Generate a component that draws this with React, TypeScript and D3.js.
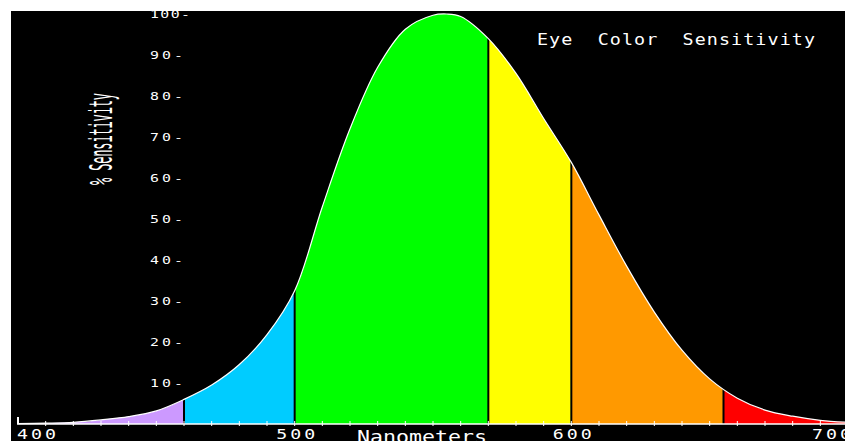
import React from "react";
import * as d3 from "d3";

const wavelengths = [400, 410, 420, 430, 440, 450, 460, 470, 480, 490, 500, 510, 520, 530, 540, 550, 555, 560, 570, 580, 590, 600, 610, 620, 630, 640, 650, 660, 670, 680, 690, 700];
const sensitivity = [0.1, 0.2, 0.4, 1.0, 1.8, 3.2, 6.0, 9.5, 14.5, 21.8, 32.5, 53.0, 72.0, 87.0, 96.3, 99.7, 100, 99.4, 94.0, 85.5, 74.5, 63.8, 51.0, 38.5, 27.3, 18.0, 11.0, 6.3, 3.4, 1.9, 0.9, 0.4];

const bandEdges = [400, 460, 500, 570, 600, 655, 700];
const bandColors = ["#CC99FF", "#00CCFF", "#00FF00", "#FFFF00", "#FF9900", "#FF0000"];

const yTicks = [10, 20, 30, 40, 50, 60, 70, 80, 90, 100];
const xLabels = [400, 500, 600, 700];
const minorTicks = d3.range(410, 700, 10);

const title = "Eye  Color  Sensitivity";
const yTitle = "% Sensitivity";
const xTitle = "Nanometers";

const W = 845;
const H = 441;
const FONT = "'DejaVu Sans Mono', monospace";

export default function App() {
  const x = d3.scaleLinear().domain([400, 700]).range([18, 848]);
  const y = d3.scaleLinear().domain([0, 100]).range([424, 14]);

  const pts = wavelengths.map((w, i) => [w, sensitivity[i]] as [number, number]);
  const curve = d3.curveCatmullRom.alpha(0.5);
  const area = d3
    .area<[number, number]>()
    .x((d) => x(d[0]))
    .y0(y(0))
    .y1((d) => y(d[1]))
    .curve(curve);
  const line = d3
    .line<[number, number]>()
    .x((d) => x(d[0]))
    .y((d) => y(d[1]))
    .curve(curve);

  const areaD = area(pts) || "";
  const lineD = line(pts) || "";

  const bands = bandColors.map((c, i) => ({ a: bandEdges[i], b: bandEdges[i + 1], c }));
  const dividers = bandEdges.slice(1, -1);

  const sx = 1.35;

  return (
    <svg
      width={W}
      height={H}
      style={{ position: "absolute", left: 0, top: 0, display: "block" }}
    >
      <defs>
        <clipPath id="frame">
          <rect x={11} y={11} width={W - 11} height={H - 11} />
        </clipPath>
        <clipPath id="under">
          <path d={areaD} />
        </clipPath>
      </defs>
      <rect x={0} y={0} width={W} height={H} fill="#ffffff" />
      <rect x={11} y={11} width={W - 11} height={H - 11} fill="#000000" />
      <g clipPath="url(#frame)">
        <g clipPath="url(#under)">
          {bands.map((bd, i) => (
            <rect
              key={i}
              x={x(bd.a)}
              y={0}
              width={x(bd.b) - x(bd.a)}
              height={H}
              fill={bd.c}
            />
          ))}
          {dividers.map((d, i) => (
            <line key={i} x1={x(d)} x2={x(d)} y1={0} y2={y(0)} stroke="#000" strokeWidth={2} />
          ))}
        </g>
        <path d={lineD} fill="none" stroke="#ffffff" strokeWidth={1.2} />
        <line x1={x(400) - 1} x2={W} y1={y(0)} y2={y(0)} stroke="#ffffff" strokeWidth={1.5} />
        <rect x={x(400) - 1} y={y(0) - 7} width={2} height={7} fill="#ffffff" />
        {minorTicks.map((t) => (
          <line key={t} x1={x(t)} x2={x(t)} y1={y(0) - 3} y2={y(0) + 2} stroke="#ffffff" strokeWidth={1} />
        ))}
        {yTicks.map((v) => (
          <text
            key={v}
            transform={`translate(150,${y(v) + 4}) scale(${sx},1)`}
            fill="#ffffff"
            fontFamily={FONT}
            fontSize={11}
            textLength={(v === 100 ? 40 : 33) / sx}
            lengthAdjust="spacing"
          >
            {v + "-"}
          </text>
        ))}
        {xLabels.map((v, i) => {
          const px = i === 0 ? x(v) - 1 : i === xLabels.length - 1 ? x(v) + 3 : x(v) + 1;
          const anchor = i === 0 ? "start" : i === xLabels.length - 1 ? "end" : "middle";
          return (
            <text
              key={v}
              transform={`translate(${px},439) scale(${sx},1)`}
              fill="#ffffff"
              fontFamily={FONT}
              fontSize={13.5}
              textAnchor={anchor}
              textLength={39 / sx}
              lengthAdjust="spacing"
            >
              {String(v)}
            </text>
          );
        })}
        <text
          transform="translate(357,443) scale(1.2,1)"
          fill="#ffffff"
          fontFamily={FONT}
          fontSize={18}
          textLength={130 / 1.2}
          lengthAdjust="spacing"
        >
          {xTitle}
        </text>
        <text
          transform="translate(537,45) scale(1.15,1)"
          fill="#ffffff"
          fontFamily={FONT}
          fontSize={16}
          textLength={278 / 1.15}
          lengthAdjust="spacing"
          style={{ whiteSpace: "pre" }}
        >
          {title}
        </text>
        <text
          transform="translate(112,139) rotate(-90) scale(1,2.6)"
          fill="#ffffff"
          fontFamily={FONT}
          fontSize={12}
          textAnchor="middle"
          textLength={92}
          lengthAdjust="spacing"
        >
          {yTitle}
        </text>
      </g>
    </svg>
  );
}
